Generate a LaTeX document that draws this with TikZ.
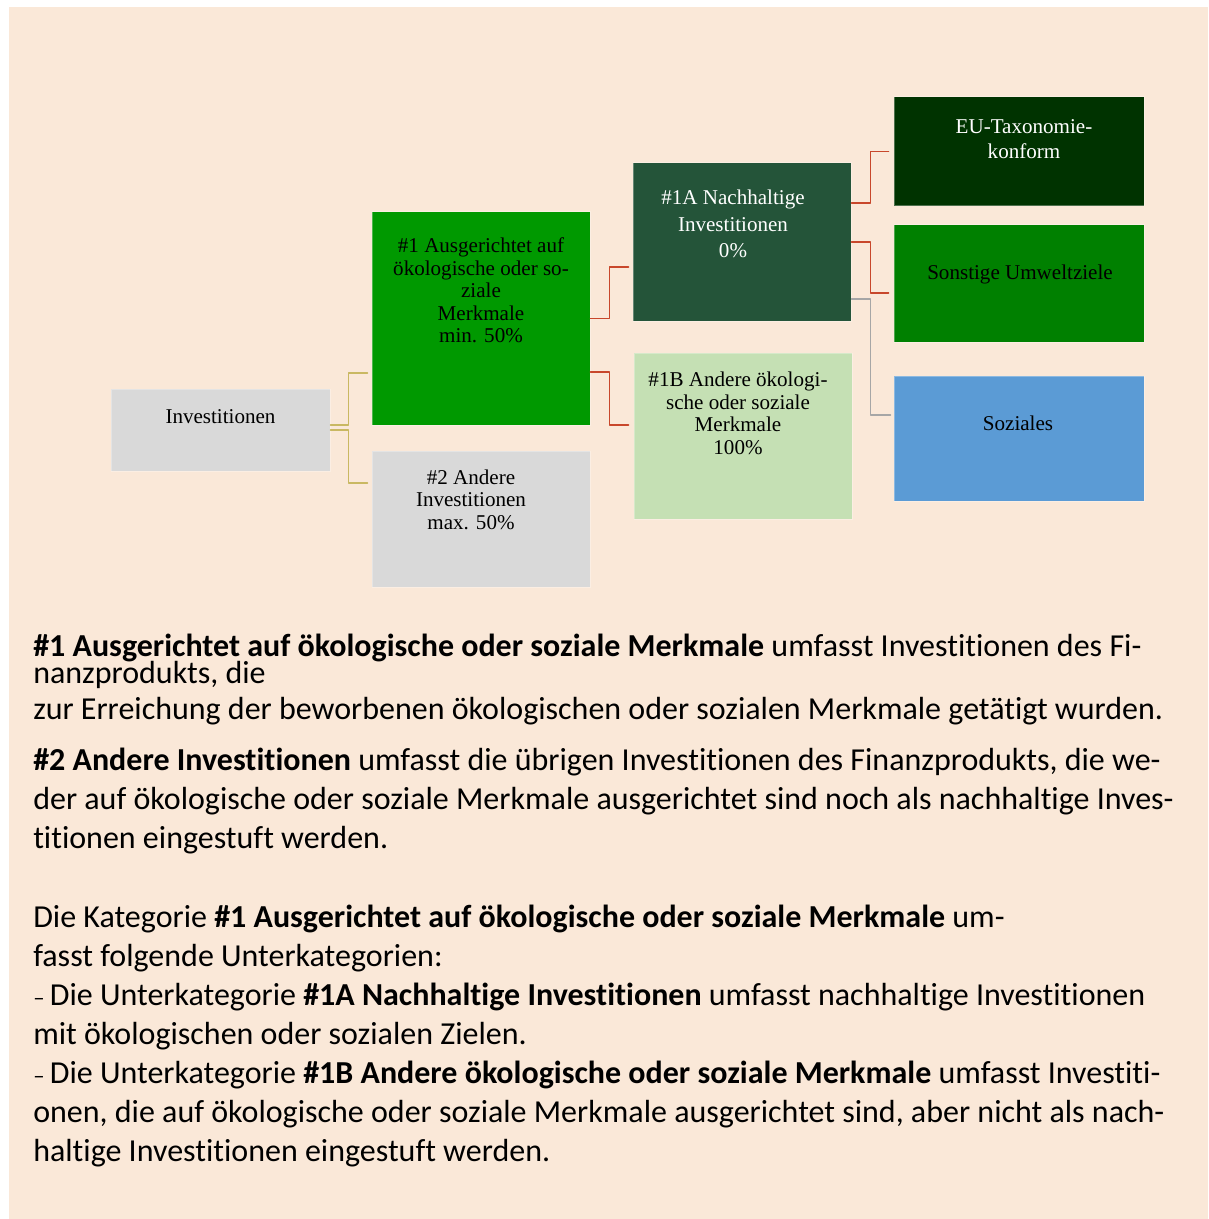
\documentclass[tikz,border=0pt]{standalone}
\usepackage{fontspec}
\setmainfont{Liberation Serif}
\newfontfamily\calibri[Ligatures=NoCommon]{Carlito}
\definecolor{hintergrund}{HTML}{FAE8D8}
\definecolor{grau}{HTML}{D9D9D9}
\definecolor{gruenEins}{HTML}{009900}
\definecolor{gruenA}{HTML}{245439}
\definecolor{gruenB}{HTML}{C5E0B4}
\definecolor{gruenEU}{HTML}{003300}
\definecolor{gruenSonst}{HTML}{008000}
\definecolor{blauSoz}{HTML}{5B9BD5}
\definecolor{linieGelb}{HTML}{C9B862}
\definecolor{linieRot}{HTML}{C8472B}
\definecolor{linieGrau}{HTML}{A6A6A6}
\tikzset{
  kasten/.style={rectangle, draw=white, draw opacity=0.3, line width=0.75pt, inner sep=0pt},
  beschr/.style={anchor=north, inner sep=0pt, align=center, font=\fontsize{15.8}{16.9}\selectfont},
  fliess/.style={anchor=base west, inner sep=0pt, font=\calibri\fontsize{24}{28}\selectfont},
  gelb/.style={draw=linieGelb, line width=1.1pt},
  rot/.style={draw=linieRot, line width=1.4pt},
  grauL/.style={draw=linieGrau, line width=1pt}
}
\newcommand{\strich}{{\fontsize{17}{17}\selectfont –}\,}
\begin{document}
\begin{tikzpicture}[line cap=round,line join=round,x=0.75pt,y=-0.75pt]
		\useasboundingbox (0,0) rectangle (1208,1219);
		\fill [hintergrund] (9,7) rectangle (1208,1219);
		% Kaesten
		\node [kasten, fill=grau, minimum width=164.25pt, minimum height=61.5pt,
		  label={[beschr, yshift=-15.5pt]north:Investitionen}] (inv) at (220.5,430) {};
		\node [kasten, fill=gruenEins, minimum width=163.5pt, minimum height=159.75pt,
		  label={[beschr, yshift=-19.5pt]north:\#1 Ausgerichtet auf\\ökologische oder so-\\ziale\\Merkmale\\min. 50\%}] (eins) at (481,318.5) {};
		\node [kasten, fill=grau, minimum width=163.5pt, minimum height=102pt,
		  label={[beschr, yshift=-14pt, xshift=-7.5pt]north:\#2 Andere\\Investitionen\\max. 50\%}] (zwei) at (481,519) {};
		\node [kasten, fill=gruenA, minimum width=163.5pt, minimum height=118.5pt,
		  label={[beschr, yshift=-20.5pt, xshift=-6.75pt, text=white, font=\fontsize{15.8}{19.9}\selectfont]north:\#1A Nachhaltige\\Investitionen\\0\%}] (einsA) at (742,242) {};
		\node [kasten, fill=gruenB, minimum width=163.5pt, minimum height=124.5pt,
		  label={[beschr, yshift=-14.5pt, xshift=-3.75pt]north:\#1B Andere ökologi-\\sche oder soziale\\Merkmale\\100\%}] (einsB) at (743,436) {};
		\node [kasten, fill=gruenEU, minimum width=187.5pt, minimum height=81.75pt,
		  label={[beschr, yshift=-17pt, xshift=3.75pt, text=white, font=\fontsize{15.8}{18.75}\selectfont]north:EU-Taxonomie-\\konform}] (eu) at (1019,151.5) {};
		\node [kasten, fill=gruenSonst, minimum width=187.5pt, minimum height=87.75pt,
		  label={[beschr, yshift=-29.8pt, xshift=0.75pt]north:Sonstige Umweltziele}] (sonst) at (1019,283.5) {};
		\node [kasten, fill=blauSoz, minimum width=187.5pt, minimum height=93.75pt,
		  label={[beschr, yshift=-30.2pt, xshift=-0.75pt]north:Soziales}] (soz) at (1019,438.5) {};
		% Verbindungen
		\draw [gelb] ([yshift=3.75pt]inv.east) -- ++(18,0) |- ([xshift=-3pt,yshift=-40.9pt]eins.west);
		\draw [gelb] (inv.east) -- ++(18,0) |- ([xshift=-3pt,yshift=27pt]zwei.west);
		\draw [rot] (eins.east) -- ++(19,0) |- ([xshift=-3pt,yshift=-18.75pt]einsA.west);
		\draw [rot] ([yshift=-40.1pt]eins.east) -- ++(19,0) |- ([xshift=-3.75pt,yshift=8.25pt]einsB.west);
		\draw [rot] ([yshift=29.25pt]einsA.east) -- ++(19,0) |- ([xshift=-3.75pt]eu.west);
		\draw [rot] (einsA.east) -- ++(19,0) |- ([xshift=-3.75pt,yshift=-7.1pt]sonst.west);
		\draw [grauL] ([yshift=-42.75pt]einsA.east) -- ++(19,0) |- ([xshift=-2.25pt,yshift=17.6pt]soz.west);
		% Erlaeuterungen
		\node [fliess] (z1) at (33,656) {\textbf{\#1 Ausgerichtet auf ökologische oder soziale Merkmale} umfasst Investitionen des Fi-};
		\node [fliess] (z2) at (33,683) {nanzprodukts, die};
		\node [fliess] (z3) at (33,719) {zur Erreichung der beworbenen ökologischen oder sozialen Merkmale getätigt wurden.};
		\node [fliess] (z4) at (33,770) {\textbf{\#2 Andere Investitionen} umfasst die übrigen Investitionen des Finanzprodukts, die we-};
		\node [fliess] (z5) at (33,809) {der auf ökologische oder soziale Merkmale ausgerichtet sind noch als nachhaltige Inves-};
		\node [fliess] (z6) at (33,848) {titionen eingestuft werden.};
		\node [fliess] (z7) at (33,927) {Die Kategorie \textbf{\#1 Ausgerichtet auf ökologische oder soziale Merkmale} um-};
		\node [fliess] (z8) at (33,966) {fasst folgende Unterkategorien:};
		\node [fliess] (z9) at (33,1005) {\strich Die Unterkategorie \textbf{\#1A Nachhaltige Investitionen} umfasst nachhaltige Investitionen};
		\node [fliess] (z10) at (33,1044) {mit ökologischen oder sozialen Zielen.};
		\node [fliess] (z11) at (33,1083) {\strich Die Unterkategorie \textbf{\#1B Andere ökologische oder soziale Merkmale} umfasst Investiti-};
		\node [fliess] (z12) at (33,1122) {onen, die auf ökologische oder soziale Merkmale ausgerichtet sind, aber nicht als nach-};
		\node [fliess] (z13) at (33,1161) {haltige Investitionen eingestuft werden.};
\end{tikzpicture}
\end{document}
